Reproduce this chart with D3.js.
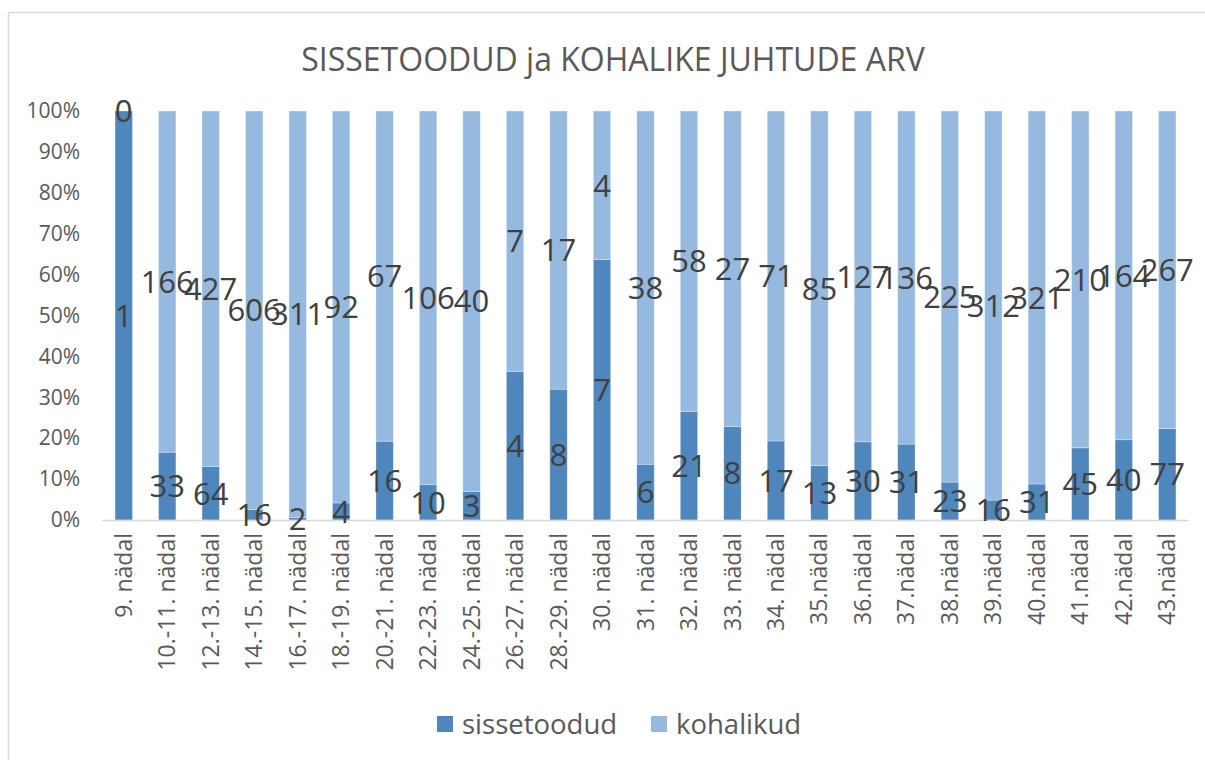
<!DOCTYPE html>
<html>
<head>
<meta charset="utf-8">
<script src="https://cdn.jsdelivr.net/npm/d3@7"></script>
<style>
  body { margin: 0; background: #fff; }
  svg { display: block; font-family: "Open Sans", sans-serif; }
</style>
</head>
<body>
<div id="chart"></div>
<script>
var weeks = ["9. nädal", "10.-11. nädal", "12.-13. nädal", "14.-15. nädal", "16.-17. nädal",
  "18.-19. nädal", "20.-21. nädal", "22.-23. nädal", "24.-25. nädal", "26.-27. nädal",
  "28.-29. nädal", "30. nädal", "31. nädal", "32. nädal", "33. nädal", "34. nädal",
  "35.nädal", "36.nädal", "37.nädal", "38.nädal", "39.nädal", "40.nädal", "41.nädal",
  "42.nädal", "43.nädal"];
var sissetoodud = [1, 33, 64, 16, 2, 4, 16, 10, 3, 4, 8, 7, 6, 21, 8, 17, 13, 30, 31, 23, 16, 31, 45, 40, 77];
var kohalikud = [0, 166, 427, 606, 311, 92, 67, 106, 40, 7, 17, 4, 38, 58, 27, 71, 85, 127, 136, 225, 312, 321, 210, 164, 267];
var yTicks = [0, 0.1, 0.2, 0.3, 0.4, 0.5, 0.6, 0.7, 0.8, 0.9, 1];
var seriesNames = ["sissetoodud", "kohalikud"];
var colors = ["#4f87bd", "#96b9df"];

var width = 1205, height = 760;
var margin = {left: 102, right: 16, top: 111, bottom: 240};

var svg = d3.select("#chart").append("svg")
  .attr("width", width)
  .attr("height", height);

// frame (only top and left visible in the original)
svg.append("line").attr("x1", 8.5).attr("x2", width).attr("y1", 12.5).attr("y2", 12.5)
  .attr("stroke", "#d9d9d9").attr("stroke-width", 1.5);
svg.append("line").attr("x1", 8.5).attr("x2", 8.5).attr("y1", 12.5).attr("y2", height)
  .attr("stroke", "#d9d9d9").attr("stroke-width", 1.5);

svg.append("text")
  .attr("x", 613).attr("y", 71)
  .attr("text-anchor", "middle")
  .attr("font-size", "32px")
  .attr("fill", "#595959")
  .text("SISSETOODUD ja KOHALIKE JUHTUDE ARV");

var x = d3.scaleBand().domain(weeks).range([margin.left, width - margin.right]).paddingInner(0.6).paddingOuter(0.3);
var y = d3.scaleLinear().domain([0, 1]).range([height - margin.bottom, margin.top]);

var rows = weeks.map(function(w, i) {
  return {week: w, sissetoodud: sissetoodud[i], kohalikud: kohalikud[i]};
});
var stack = d3.stack().keys(seriesNames).offset(d3.stackOffsetExpand);
var stacked = stack(rows);

// y axis
var yAxis = svg.append("g")
  .attr("transform", "translate(" + (margin.left - 19) + ",0)")
  .call(d3.axisLeft(y).tickValues(yTicks).tickFormat(d3.format(".0%")).tickSize(0));
yAxis.select(".domain").remove();
yAxis.selectAll("text").attr("font-size", "21px").attr("fill", "#595959")
  .attr("font-family", "Open Sans");

// bars
var groups = svg.selectAll(".series").data(stacked).enter().append("g")
  .attr("class", "series")
  .attr("fill", function(d, i) { return colors[i]; });

groups.selectAll("rect").data(function(d) { return d; }).enter().append("rect")
  .attr("x", function(d) { return x(d.data.week); })
  .attr("width", x.bandwidth())
  .attr("y", function(d) { return y(d[1]); })
  .attr("height", function(d) { return y(d[0]) - y(d[1]); })
  .attr("stroke", "#fff")
  .attr("stroke-opacity", 0.5)
  .attr("stroke-width", 0.6);

// baseline
svg.append("line")
  .attr("x1", margin.left).attr("x2", width - margin.right)
  .attr("y1", y(0) + 0.5).attr("y2", y(0) + 0.5)
  .attr("stroke", "#d9d9d9").attr("stroke-width", 1.5);

// x axis labels
var xAxis = svg.append("g")
  .attr("transform", "translate(0," + (y(0) + 13) + ")")
  .call(d3.axisBottom(x).tickSize(0).tickPadding(0));
xAxis.select(".domain").remove();
xAxis.selectAll("text")
  .attr("font-size", "23px")
  .attr("fill", "#595959")
  .attr("font-family", "Open Sans")
  .attr("text-anchor", "end")
  .attr("dy", "0.35em")
  .attr("transform", "rotate(-90)");

// data labels
stacked.forEach(function(s, si) {
  svg.append("g").selectAll("text").data(s).enter().append("text")
    .attr("x", function(d) { return x(d.data.week) + x.bandwidth() / 2; })
    .attr("y", function(d) { return y((d[0] + d[1]) / 2); })
    .attr("dy", "0.36em")
    .attr("text-anchor", "middle")
    .attr("font-size", "31px")
    .attr("fill", "#404040")
    .text(function(d) { return d.data[s.key]; });
});

// legend
var legend = svg.append("g").attr("transform", "translate(0,724)");
var legendX = [437, 651];
seriesNames.forEach(function(n, i) {
  legend.append("rect").attr("x", legendX[i]).attr("y", -8).attr("width", 16).attr("height", 16)
    .attr("fill", colors[i]);
  legend.append("text").attr("x", legendX[i] + 25).attr("y", 0).attr("dy", "0.36em")
    .attr("font-size", "27.5px").attr("fill", "#595959")
    .text(n);
});
</script>
</body>
</html>
